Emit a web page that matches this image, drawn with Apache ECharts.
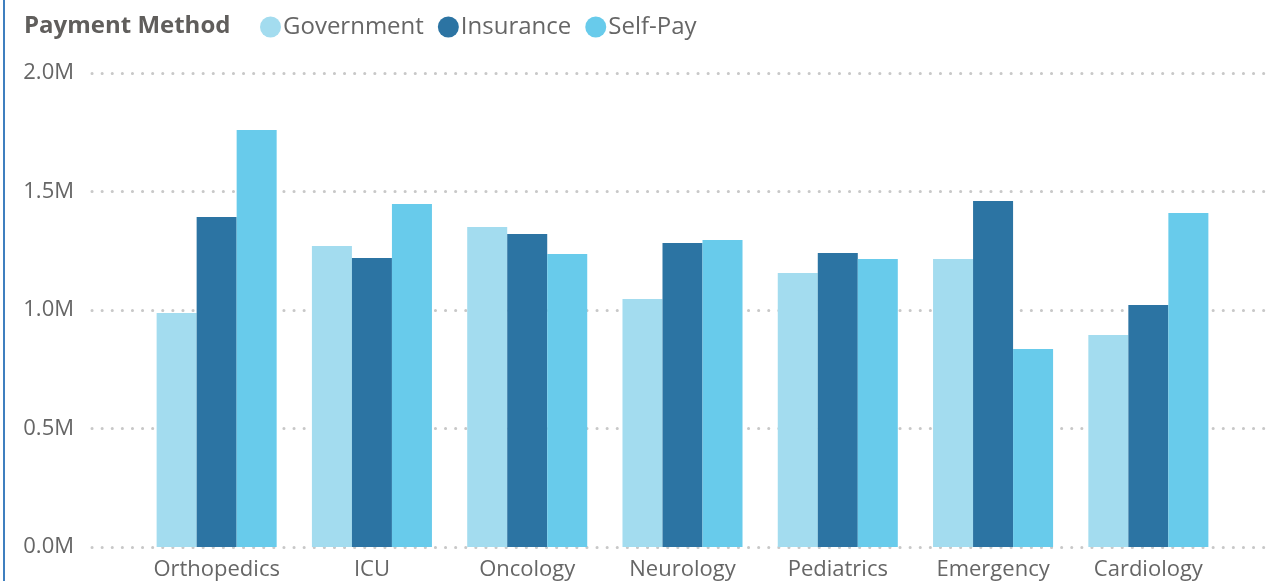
<!DOCTYPE html>
<html>
<head>
<meta charset="utf-8">
<script src="https://cdn.jsdelivr.net/npm/echarts@6/dist/echarts.min.js"></script>
<style>
  html, body { margin: 0; padding: 0; background: #fff; }
  #chart { width: 1284px; height: 581px; }
</style>
</head>
<body>
<div id="chart"></div>
<script>
const departments = ['Orthopedics', 'ICU', 'Oncology', 'Neurology', 'Pediatrics', 'Emergency', 'Cardiology'];
const government = [987000, 1270000, 1350000, 1046000, 1156000, 1215000, 895000];
const insurance = [1392000, 1219000, 1321000, 1283000, 1241000, 1460000, 1021000];
const selfPay = [1759000, 1447000, 1236000, 1295000, 1215000, 835000, 1409000];

const FONT = 'Open Sans';
const TXT = '#666666';

const chart = echarts.init(document.getElementById('chart'));

function bar(name, data, color) {
  return {
    name: name,
    type: 'bar',
    xAxisIndex: 1,
    yAxisIndex: 1,
    data: data,
    barGap: '0%',
    barCategoryGap: '22.7%',
    itemStyle: { color: color },
    emphasis: { disabled: true }
  };
}

chart.setOption({
  animation: false,
  title: {
    text: 'Payment Method',
    left: 19,
    top: 9,
    textStyle: { fontFamily: FONT, fontSize: 24, fontWeight: 'bold', color: '#605e5c' }
  },
  legend: {
    left: 255,
    top: 10,
    icon: 'circle',
    itemWidth: 21,
    itemHeight: 21,
    itemGap: 14,
    textStyle: { fontFamily: FONT, fontSize: 24, color: TXT, padding: [0, 0, 0, -3] },
    data: ['Government', 'Insurance', 'Self-Pay']
  },
  graphic: [{
    type: 'rect',
    shape: { x: 3, y: 0, width: 2, height: 581 },
    style: { fill: '#3f7fbf' }
  }],
  grid: [
    { left: 92, right: 18, top: 73, bottom: 34 },
    { left: 139, right: 58, top: 73, bottom: 34 }
  ],
  xAxis: [
    { type: 'category', gridIndex: 0, data: departments, show: false },
    {
      type: 'category',
      gridIndex: 1,
      data: departments,
      axisLine: { show: false },
      axisTick: { show: false },
      axisLabel: { fontFamily: FONT, fontSize: 22, color: TXT, margin: 12, interval: 0 }
    }
  ],
  yAxis: [
    {
      type: 'value',
      gridIndex: 0,
      min: 0,
      max: 2000000,
      interval: 500000,
      axisLine: { show: false },
      axisTick: { show: false },
      axisLabel: {
        fontFamily: FONT, fontSize: 22, color: TXT, margin: 18,
        formatter: v => (v / 1000000).toFixed(1) + 'M'
      },
      splitLine: { lineStyle: { color: '#c8c8c8', width: 3, type: [0.1, 10], cap: 'round' } }
    },
    {
      type: 'value',
      gridIndex: 1,
      min: 0,
      max: 2000000,
      interval: 500000,
      show: false,
      splitLine: { show: false }
    }
  ],
  series: [
    bar('Government', government, '#a3dcef'),
    bar('Insurance', insurance, '#2c74a3'),
    bar('Self-Pay', selfPay, '#68cbeb')
  ]
});
</script>
</body>
</html>
